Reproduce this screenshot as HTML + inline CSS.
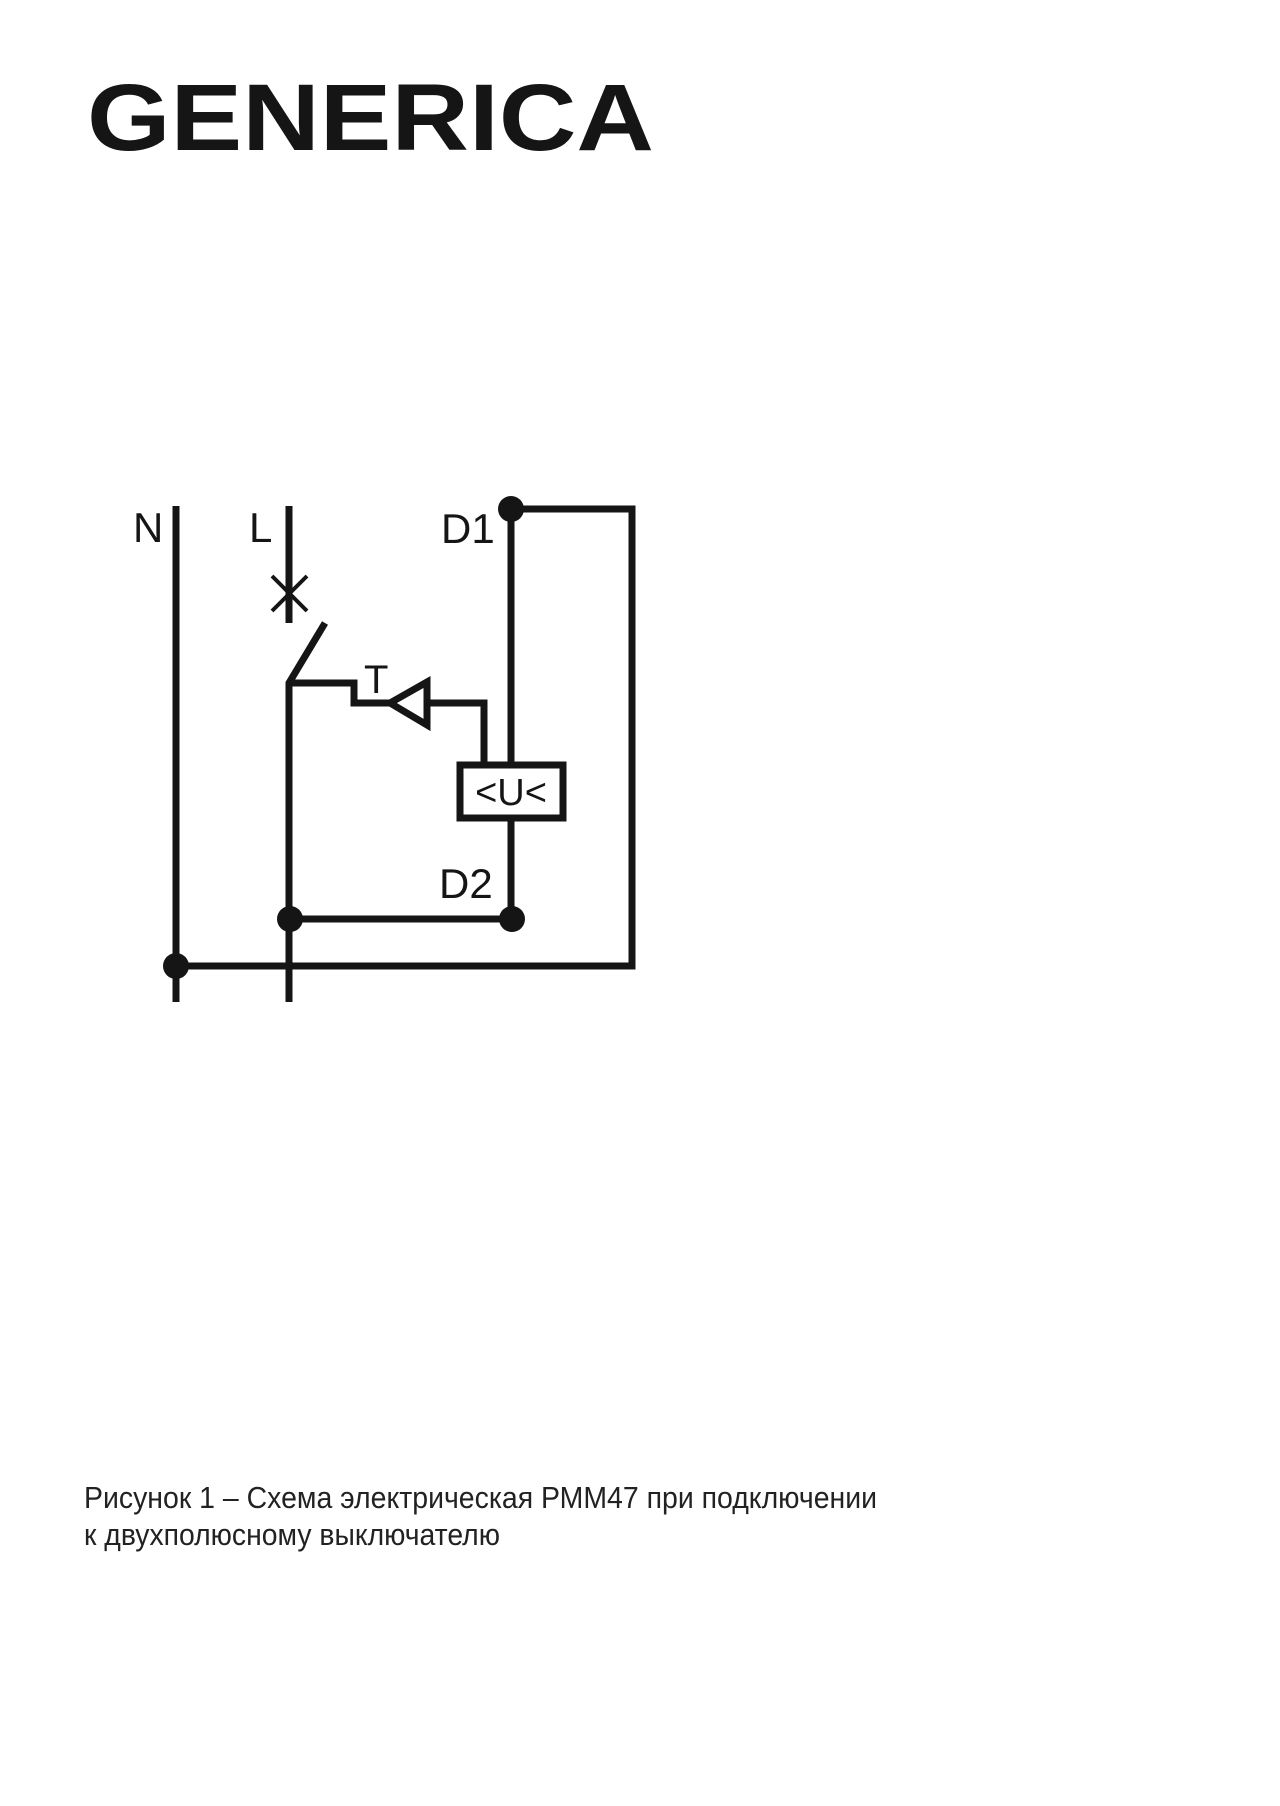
<!DOCTYPE html>
<html><head><meta charset="utf-8"><style>
html,body{margin:0;padding:0;background:#fff;}
svg{display:block;}
</style></head><body>
<svg width="1280" height="1806" viewBox="0 0 1280 1806" xmlns="http://www.w3.org/2000/svg">
<rect width="1280" height="1806" fill="#fff"/>
<text x="87" y="150" font-family="Liberation Sans, sans-serif" font-weight="bold" font-size="95" fill="#151515" textLength="567" lengthAdjust="spacingAndGlyphs">GENERICA</text>
<g stroke="#151515" stroke-width="7" fill="none">
<line x1="176" y1="506" x2="176" y2="1002"/>
<line x1="289" y1="506" x2="289" y2="623"/>
<line x1="272" y1="576" x2="307" y2="611" stroke-width="4"/>
<line x1="307" y1="576" x2="272" y2="611" stroke-width="4"/>
<polyline points="325,623 289,683 289,1002"/>
<polyline points="289,683 354,683 354,703 390,703"/>
<polygon points="390,703 427,682 427,725"/>
<polyline points="427,703 484,703 484,763"/>
<rect x="460" y="765" width="103" height="53"/>
<line x1="511" y1="509" x2="511" y2="765"/>
<polyline points="511,509 632,509 632,966 176,966"/>
<line x1="511" y1="818" x2="511" y2="919"/>
<line x1="290" y1="919" x2="511" y2="919"/>
</g>
<g fill="#151515">
<circle cx="511" cy="509" r="13"/>
<circle cx="176" cy="966" r="13"/>
<circle cx="290" cy="919" r="13"/>
<circle cx="512" cy="919" r="13"/>
</g>
<g font-family="Liberation Sans, sans-serif" fill="#151515">
<text x="133" y="542" font-size="42">N</text>
<text x="249" y="542" font-size="42">L</text>
<text x="441" y="543" font-size="42">D1</text>
<text x="439" y="898" font-size="42">D2</text>
<text x="364" y="693" font-size="40">T</text>
<text x="511" y="805" font-size="38" text-anchor="middle">&lt;U&lt;</text>
</g>
<g font-family="Liberation Sans, sans-serif" fill="#222" font-size="31">
<text x="84" y="1508" textLength="793" lengthAdjust="spacingAndGlyphs">Рисунок 1 – Схема электрическая РММ47 при подключении</text>
<text x="84" y="1545" textLength="416" lengthAdjust="spacingAndGlyphs">к двухполюсному выключателю</text>
</g>
</svg>
</body></html>
